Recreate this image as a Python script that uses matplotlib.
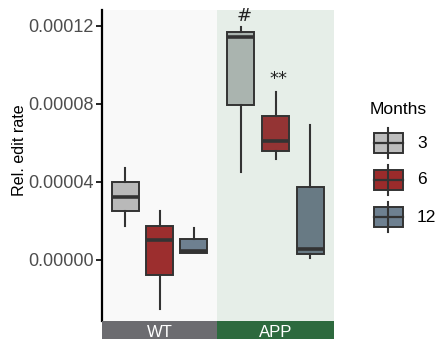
import matplotlib
matplotlib.use("Agg")
import matplotlib.pyplot as plt
from matplotlib.patches import Rectangle

plt.rcParams["font.family"] = ["Liberation Sans", "DejaVu Sans"]

# values (units of 1e-6)
genotypes = ["WT", "APP"]
months = ["3", "6", "12"]
q1 = {"WT": [25.1, -7.7, 3.8], "APP": [79.3, 56.1, 2.9]}
med = {"WT": [32.3, 10.3, 4.5], "APP": [114.5, 61.0, 5.5]}
q3 = {"WT": [40.0, 17.6, 10.6], "APP": [116.9, 73.8, 37.4]}
whislo = {"WT": [17.4, -25.1, 3.8], "APP": [45.0, 51.8, 1.2]}
whishi = {"WT": [47.2, 25.1, 16.4], "APP": [119.3, 86.3, 69.0]}
# significance marks: (text, month index, height)
marks = {"APP": [("#", 0, 125.0), ("**", 1, 93.0)]}

legend_colors = ["#bdbdbd", "#9b2b2b", "#6e8090"]
box_colors = {"WT": ["#b9b9b9", "#9c2e2e", "#6e8090"],
              "APP": ["#aab4af", "#943434", "#687a84"]}
panel_bg = {"WT": "#f9f9f9", "APP": "#e6eee8"}
strip_bg = {"WT": "#6c6c70", "APP": "#2d6a3e"}
edge = "#333333"

W, H = 436, 339
fig = plt.figure(figsize=(W / 100, H / 100), dpi=100)

panels = {"WT": (102, 217), "APP": (217, 334)}
top_px, bot_px = 10, 321
ymin, ymax = -31.3e-6, 128.2e-6
pos = [-1, 0, 1]

axes = {}
for g in genotypes:
    x0, x1 = panels[g]
    ax = fig.add_axes([x0 / W, 1 - bot_px / H, (x1 - x0) / W, (bot_px - top_px) / H])
    ax.set_facecolor(panel_bg[g])
    stats = []
    for i in range(3):
        stats.append(dict(med=med[g][i] * 1e-6, q1=q1[g][i] * 1e-6, q3=q3[g][i] * 1e-6,
                          whislo=whislo[g][i] * 1e-6, whishi=whishi[g][i] * 1e-6,
                          fliers=[]))
    bp = ax.bxp(stats, positions=pos, widths=0.78, patch_artist=True,
                showcaps=False, showfliers=False,
                boxprops=dict(edgecolor=edge, linewidth=1.4),
                whiskerprops=dict(color=edge, linewidth=1.5),
                medianprops=dict(color=edge, linewidth=2.6, solid_capstyle="butt"))
    for patch, c in zip(bp["boxes"], box_colors[g]):
        patch.set_facecolor(c)
    for txt, i, y in marks.get(g, []):
        ax.text(pos[i] + 0.1, y * 1e-6, txt, ha="center", va="center", fontsize=13,
                color="#222222", family="DejaVu Sans")
    ax.set_xlim(-1.69, 1.69)
    ax.set_ylim(ymin, ymax)
    ax.set_xticks([])
    for s in ["top", "right", "bottom"]:
        ax.spines[s].set_visible(False)
    # facet strip
    sax = fig.add_axes([x0 / W, 0, (x1 - x0) / W, (H - bot_px) / H])
    sax.set_facecolor(strip_bg[g])
    sax.set_xticks([])
    sax.set_yticks([])
    for s in sax.spines.values():
        s.set_visible(False)
    sax.text(0.5, 0.1, g, ha="center", va="baseline", color="white", fontsize=12,
             transform=sax.transAxes)
    axes[g] = ax

ax = axes["WT"]
ax.spines["left"].set_linewidth(1.6)
ax.set_yticks([0, 4e-5, 8e-5, 1.2e-4])
ax.set_yticklabels(["0.00000", "0.00004", "0.00008", "0.00012"])
ax.tick_params(axis="y", length=4, width=1.2, color="black", labelsize=13,
               labelcolor="#4d4d4d", pad=2)
fig.text(19 / W, 1 - 150 / H, "Rel. edit rate", rotation=90, ha="center",
         va="center", fontsize=11.6, color="black")

app = axes["APP"]
app.spines["left"].set_visible(False)
app.set_yticks([])

# legend
lax = fig.add_axes([340 / W, 1 - 240 / H, 96 / W, 150 / H])
lax.set_xlim(340, 436)
lax.set_ylim(240, 90)
lax.axis("off")
lax.text(370, 109, "Months", ha="left", va="center", fontsize=12.5)
for k, (lab, c) in enumerate(zip(months, legend_colors)):
    yc = 143 + k * 37
    lax.plot([388, 388], [yc - 15, yc + 15], color=edge, lw=1.5)
    lax.add_patch(Rectangle((374, yc - 10), 29, 20, facecolor=c, edgecolor=edge, lw=1.4))
    lax.plot([374, 403], [yc, yc], color=edge, lw=1.6)
    lax.text(417, yc, lab, ha="left", va="center", fontsize=12.5)

fig.savefig("out.png", dpi=100)
